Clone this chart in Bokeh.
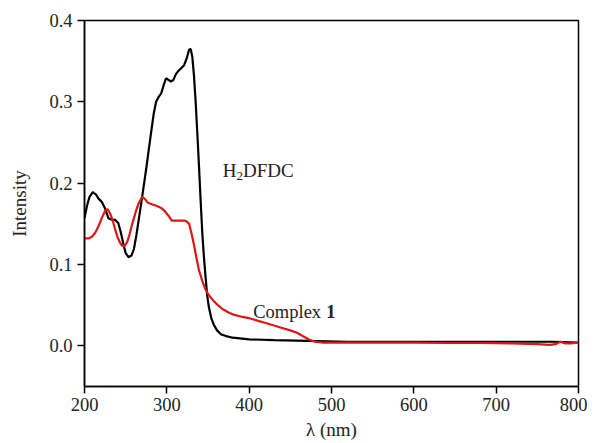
from bokeh.plotting import figure
from bokeh.models import Label, FixedTicker, Range1d
from bokeh.embed import file_html
from bokeh.resources import INLINE

# H2DFDC spectrum
h2_nm = [200, 203, 206, 210, 214, 217, 221, 225, 229, 233, 237, 241, 244, 247, 250, 253.5,
         257, 260, 263, 266, 269, 272, 275, 278, 281, 284, 287, 290, 293, 296, 299, 302, 305,
         308, 311, 314, 318, 321, 324, 327, 329, 331, 333, 335, 337, 339, 341, 343, 345, 347,
         349, 351, 354, 357, 361, 366, 372, 380, 400, 430, 470, 520, 600, 680, 740, 770, 800]
h2_int = [0.157, 0.172, 0.183, 0.189, 0.186, 0.181, 0.177, 0.169, 0.157, 0.155, 0.155, 0.151,
          0.140, 0.126, 0.114, 0.109, 0.111, 0.119, 0.136, 0.156, 0.176, 0.197, 0.218, 0.241,
          0.263, 0.285, 0.300, 0.306, 0.310, 0.320, 0.329, 0.327, 0.325, 0.327, 0.334, 0.338,
          0.342, 0.345, 0.353, 0.364, 0.365, 0.355, 0.332, 0.300, 0.262, 0.222, 0.180, 0.140,
          0.110, 0.085, 0.062, 0.048, 0.034, 0.026, 0.019, 0.014, 0.012, 0.010, 0.008, 0.007,
          0.006, 0.005, 0.005, 0.005, 0.005, 0.005, 0.004]

# Complex 1 spectrum
c1_nm = [200, 205, 209, 213, 217, 221, 225, 228, 231, 234, 237, 240, 243, 246, 249, 252, 255,
         258, 262, 266, 270, 273, 277, 282, 288, 294, 298, 302, 306, 311, 316, 321, 324, 327,
         330, 333, 336, 339, 343, 347, 352, 357, 362, 368, 375, 382, 390, 400, 410, 420, 430,
         440, 450, 458, 465, 472, 480, 490, 520, 560, 600, 640, 680, 720, 750, 765, 772, 778,
         784, 790, 800]
c1_int = [0.132, 0.132, 0.134, 0.139, 0.147, 0.157, 0.166, 0.168, 0.163, 0.155, 0.144, 0.134,
          0.127, 0.123, 0.123, 0.128, 0.138, 0.150, 0.164, 0.176, 0.183, 0.181, 0.176, 0.174,
          0.172, 0.169, 0.165, 0.160, 0.154, 0.154, 0.154, 0.154, 0.153, 0.150, 0.138, 0.124,
          0.108, 0.093, 0.080, 0.069, 0.061, 0.055, 0.050, 0.045, 0.041, 0.038, 0.036, 0.034,
          0.031, 0.028, 0.025, 0.022, 0.019, 0.016, 0.012, 0.008, 0.005, 0.004, 0.004, 0.004,
          0.004, 0.0035, 0.0035, 0.003, 0.002, 0.0012, 0.002, 0.005, 0.003, 0.003, 0.004]

x_ticks = [200, 300, 400, 500, 600, 700, 800]
y_ticks = [0.0, 0.1, 0.2, 0.3, 0.4]
y_tick_labels = ["0.0", "0.1", "0.2", "0.3", "0.4"]

FONT = "Liberation Serif"

p = figure(width=587, height=442, output_backend="svg", toolbar_location=None,
           x_range=Range1d(200, 800), y_range=Range1d(-0.05, 0.4),
           min_border_left=84, min_border_right=9, min_border_top=20, min_border_bottom=0)
p.grid.visible = False
p.outline_line_color = "black"
p.outline_line_width = 1.5
p.background_fill_color = "white"
p.border_fill_color = "white"

p.line(h2_nm, h2_int, line_color="black", line_width=2.2)
p.line(c1_nm, c1_int, line_color="#dd1616", line_width=2.2)

for ax in (p.xaxis[0], p.yaxis[0]):
    ax.axis_line_color = "black"
    ax.axis_line_width = 1.5
    ax.major_tick_line_color = "black"
    ax.major_tick_line_width = 1.5
    ax.major_tick_out = 7
    ax.major_tick_in = 0
    ax.minor_tick_line_color = None
    ax.major_label_text_font = FONT
    ax.major_label_text_font_size = "18.5px"
    ax.major_label_text_color = "#222222"
    ax.axis_label_text_font = FONT
    ax.axis_label_text_font_size = "19px"
    ax.axis_label_text_font_style = "normal"
    ax.axis_label_text_color = "#222222"

p.xaxis.ticker = FixedTicker(ticks=x_ticks)
p.yaxis.ticker = FixedTicker(ticks=y_ticks)
p.yaxis.major_label_overrides = {t: s for t, s in zip(y_ticks, y_tick_labels)}
p.xaxis.axis_label = "λ (nm)"
p.yaxis.axis_label = "Intensity"
p.xaxis.major_label_standoff = 4
p.xaxis.axis_label_standoff = 5
p.yaxis.major_label_standoff = 5
p.yaxis.axis_label_standoff = 16

# annotations
lab_kw = dict(text_font=FONT, text_color="#222222", text_baseline="alphabetic")
p.add_layout(Label(x=368, y=0.2154, text="H", text_font_size="19px", **lab_kw))
p.add_layout(Label(x=368, y=0.2154, x_offset=13.7, y_offset=-5, text="2",
                   text_font_size="13px", **lab_kw))
p.add_layout(Label(x=368, y=0.2154, x_offset=20.2, text="DFDC", text_font_size="19px", **lab_kw))
p.add_layout(Label(x=405, y=0.0416, text="Complex", text_font_size="18.5px", **lab_kw))
p.add_layout(Label(x=405, y=0.0416, x_offset=73, text="1", text_font_size="18.5px",
                   text_font_style="bold", **lab_kw))

open("out.html", "w").write(file_html(p, INLINE))
